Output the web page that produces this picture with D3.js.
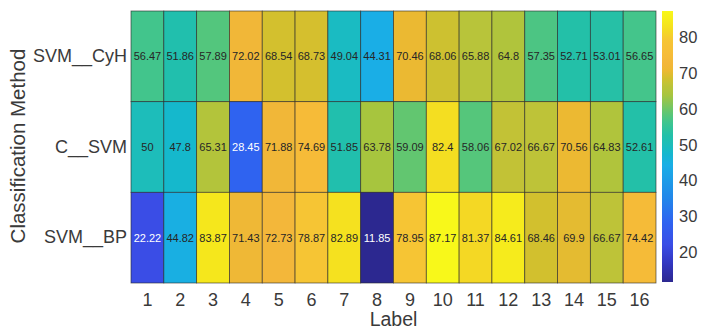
<!DOCTYPE html>
<html>
<head>
<meta charset="utf-8">
<script src="https://cdn.jsdelivr.net/npm/d3@7"></script>
<style>
  html, body { margin: 0; padding: 0; background: #fff; }
  svg { display: block; font-family: "Liberation Sans", Arial, Helvetica, sans-serif; }
</style>
</head>
<body>
<svg id="chart" width="707" height="331"></svg>
<script>
// Classification accuracy per label, one row per method
const methods = ["SVM__CyH", "C__SVM", "SVM__BP"];
const labels = ["1","2","3","4","5","6","7","8","9","10","11","12","13","14","15","16"];
const svmCyH = [56.47, 51.86, 57.89, 72.02, 68.54, 68.73, 49.04, 44.31, 70.46, 68.06, 65.88, 64.8, 57.35, 52.71, 53.01, 56.65];
const cSvm   = [50, 47.8, 65.31, 28.45, 71.88, 74.69, 51.85, 63.78, 59.09, 82.4, 58.06, 67.02, 66.67, 70.56, 64.83, 52.61];
const svmBP  = [22.22, 44.82, 83.87, 71.43, 72.73, 78.87, 82.89, 11.85, 78.95, 87.17, 81.37, 84.61, 68.46, 69.9, 66.67, 74.42];
const colorbarTicks = [20, 30, 40, 50, 60, 70, 80];

const rows = [svmCyH, cSvm, svmBP];

// Parula-style colormap: [position in 0..1, colour]
const cmapStops = [
  [0.000, "#2c2890"], [0.068, "#3236c0"], [0.138, "#3a4de6"], [0.220, "#2f63f0"],
  [0.307, "#2286ea"], [0.431, "#1aaee6"], [0.477, "#15b8cc"], [0.506, "#1dbdba"],
  [0.542, "#23c0a8"], [0.593, "#42c58c"], [0.627, "#62c670"], [0.690, "#a8c53e"],
  [0.728, "#bec338"], [0.752, "#d2c02e"], [0.779, "#ecb932"], [0.805, "#f3b63a"],
  [0.838, "#f6bc38"], [0.891, "#f6c534"], [0.923, "#f4d824"], [0.955, "#f5e71c"],
  [1.000, "#f8f81a"]
];
const cmap = d3.scaleLinear()
  .domain(cmapStops.map(s => s[0]))
  .range(cmapStops.map(s => s[1]))
  .interpolate(d3.interpolateRgb)
  .clamp(true);

const allValues = rows.flat();
const vmin = d3.min(allValues), vmax = d3.max(allValues);
const color = d3.scaleSequential(t => cmap(t)).domain([vmin, vmax]);

const svg = d3.select("#chart");
const plot = { left: 131, top: 11, right: 656, bottom: 283 };

const x = d3.scaleBand().domain(labels).range([plot.left, plot.right]);
const y = d3.scaleBand().domain(methods).range([plot.top, plot.bottom]);

const cells = [];
methods.forEach((m, i) => labels.forEach((l, j) => cells.push({ m, l, v: rows[i][j] })));

svg.append("g").selectAll("rect").data(cells).join("rect")
  .attr("x", d => x(d.l)).attr("y", d => y(d.m))
  .attr("width", x.bandwidth()).attr("height", y.bandwidth())
  .attr("fill", d => color(d.v))
  .attr("stroke", "rgba(40,40,40,0.75)").attr("stroke-width", 0.8);

// Dark cells get white value text
function lum(c) { const r = d3.rgb(c); return 0.299*r.r + 0.587*r.g + 0.114*r.b; }
svg.append("g").selectAll("text").data(cells).join("text")
  .attr("x", d => x(d.l) + x.bandwidth() / 2)
  .attr("y", d => y(d.m) + y.bandwidth() / 2)
  .attr("text-anchor", "middle").attr("dominant-baseline", "central")
  .attr("font-size", 11)
  .attr("fill", d => lum(color(d.v)) < 110 ? "#ffffff" : "#262626")
  .text(d => String(d.v));

// Axes
const xAxis = svg.append("g").attr("transform", `translate(0,${plot.bottom})`)
  .call(d3.axisBottom(x).tickSize(0).tickPadding(10));
const yAxis = svg.append("g").attr("transform", `translate(${plot.left},0)`)
  .call(d3.axisLeft(y).tickSize(0).tickPadding(4));
[xAxis, yAxis].forEach(a => {
  a.select(".domain").remove();
  a.selectAll("text").attr("font-size", 18).attr("fill", "#3a3a3a")
    .attr("font-family", "Liberation Sans, Arial, sans-serif");
});

svg.append("text")
  .attr("x", (plot.left + plot.right) / 2).attr("y", 326)
  .attr("text-anchor", "middle").attr("font-size", 19.5).attr("fill", "#3a3a3a")
  .text("Label");
svg.append("text")
  .attr("transform", `translate(25,${(plot.top + plot.bottom) / 2 - 1}) rotate(-90)`)
  .attr("text-anchor", "middle").attr("font-size", 20.5).attr("fill", "#3a3a3a")
  .text("Classification Method");

// Colorbar
const cb = { x: 662, w: 11, top: 11, bottom: 282 };
const cScale = d3.scaleLinear().domain([vmin, vmax]).range([cb.bottom, cb.top]);
const defs = svg.append("defs");
const grad = defs.append("linearGradient").attr("id", "cbgrad")
  .attr("x1", 0).attr("y1", 1).attr("x2", 0).attr("y2", 0);
d3.range(0, 101).forEach(i => {
  const t = i / 100;
  grad.append("stop").attr("offset", t).attr("stop-color", cmap(t));
});
svg.append("rect").attr("x", cb.x).attr("y", cb.top)
  .attr("width", cb.w).attr("height", cb.bottom - cb.top)
  .attr("fill", "url(#cbgrad)");
const cAxis = svg.append("g").attr("transform", `translate(${cb.x + cb.w},0)`)
  .call(d3.axisRight(cScale).tickValues(colorbarTicks).tickSize(0).tickPadding(6));
cAxis.select(".domain").remove();
cAxis.selectAll("text").attr("font-size", 16.5).attr("fill", "#3a3a3a")
  .attr("font-family", "Liberation Sans, Arial, sans-serif");
</script>
</body>
</html>
